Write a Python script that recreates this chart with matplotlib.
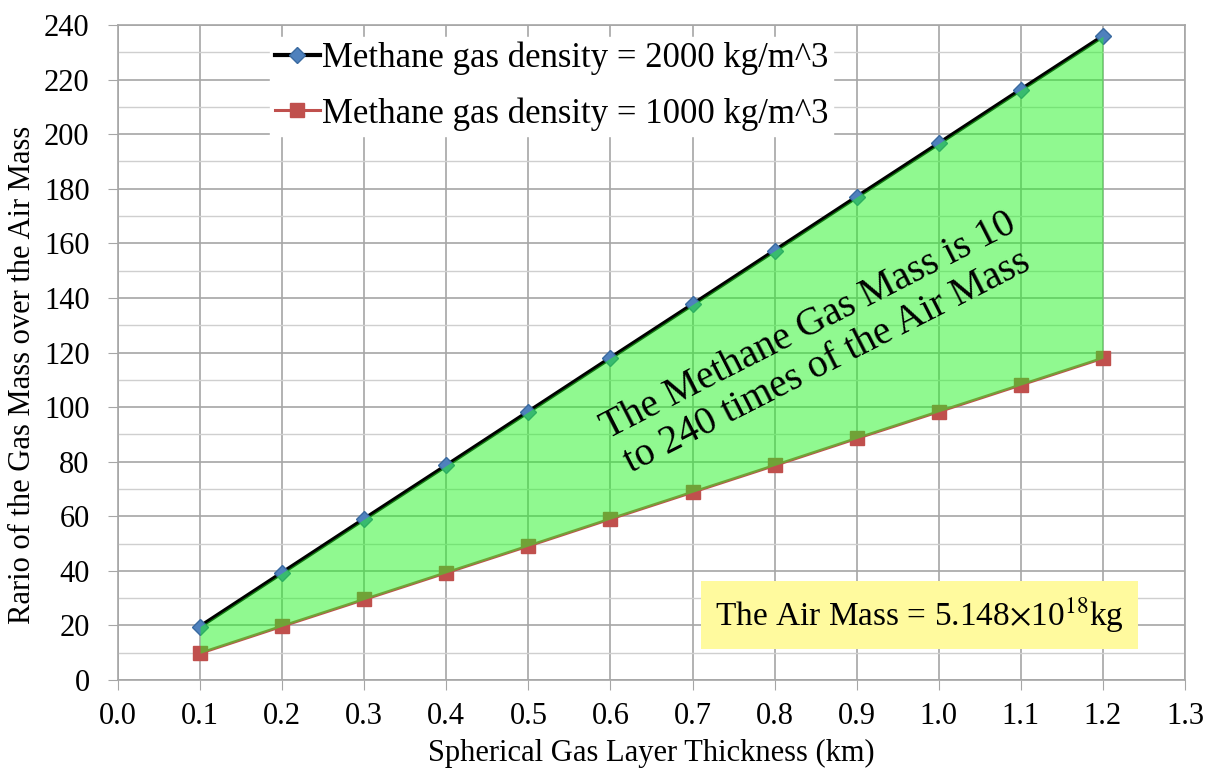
import numpy as np
import matplotlib.pyplot as plt
from matplotlib.ticker import MultipleLocator

# data
thickness = [0.1, 0.2, 0.3, 0.4, 0.5, 0.6, 0.7, 0.8, 0.9, 1.0, 1.1, 1.2]
ratio_2000 = [19.6, 39.3, 59.0, 78.6, 98.3, 118.0, 137.6, 157.3, 177.0, 196.6, 216.3, 235.9]
ratio_1000 = [9.8, 19.7, 29.5, 39.3, 49.1, 59.0, 68.8, 78.6, 88.5, 98.3, 108.1, 117.9]

label_2000 = 'Methane gas density = 2000 kg/m^3'
label_1000 = 'Methane gas density = 1000 kg/m^3'

plt.rcParams['font.family'] = ['Liberation Serif', 'DejaVu Serif']
plt.rcParams['mathtext.fontset'] = 'stix'

fig = plt.figure(figsize=(12.08, 7.71), dpi=100)
ax = fig.add_axes([118/1208, 1 - 680/771, (1185-118)/1208, (680-25)/771])

ax.plot(thickness, ratio_2000, color='black', lw=3, marker='D', ms=8,
        mfc='#4F81BD', mec='#3A6AA0', label=label_2000, zorder=3)
ax.plot(thickness, ratio_1000, color='#C0504D', lw=2.2, marker='s', ms=10,
        mfc='#C0504D', mec='#C0504D', label=label_1000, zorder=3)
ax.fill_between(thickness, ratio_1000, ratio_2000, color='#22F522', alpha=0.5,
                lw=0, zorder=4)

ax.set_xlim(0, 1.3)
ax.set_ylim(0, 240)
ax.xaxis.set_major_locator(MultipleLocator(0.1))
ax.yaxis.set_major_locator(MultipleLocator(20))
ax.yaxis.set_minor_locator(MultipleLocator(10))
ax.xaxis.set_major_formatter(plt.FuncFormatter(lambda v, p: f'{v:.1f}'))

ax.grid(which='major', color='#A6A6A6', lw=1.2)
ax.grid(which='minor', axis='y', color='#CFCFCF', lw=1.0)
ax.set_axisbelow(True)
for s in ax.spines.values():
    s.set_color('#A6A6A6')
    s.set_linewidth(1.2)
ax.tick_params(which='major', direction='out', length=7.5, color='#A6A6A6',
               labelsize=22)
ax.tick_params(axis='y', pad=13)
ax.tick_params(axis='x', pad=8)
ax.tick_params(which='minor', length=0)

ax.set_xlabel('Spherical Gas Layer Thickness (km)', fontsize=22, labelpad=6)
ax.set_ylabel('Rario of the Gas Mass over the Air Mass', fontsize=22)
ax.yaxis.set_label_coords(-0.076, 0.466)

leg = ax.legend(loc='upper left', bbox_to_anchor=(0.142, 0.982), fontsize=25,
                frameon=True, fancybox=False, edgecolor='white', framealpha=1,
                handlelength=1.3, handletextpad=0.05, labelspacing=0.62,
                borderpad=0.15, borderaxespad=0)
leg.set_zorder(6)

ax.text(0.853, 123, 'The Methane Gas Mass is 10\nto 240 times of the Air Mass',
        fontsize=28.5, rotation=27, ha='center', va='center',
        rotation_mode='anchor', linespacing=1.1, zorder=5)

ax.text(0.977, 23.8, r'The Air Mass = 5.148$\times$10$^{18}$kg', fontsize=24,
        ha='center', va='center', zorder=6,
        bbox=dict(boxstyle='square,pad=0.42', fc='#FFFA9E', ec='none'))

fig.savefig('out.png', dpi=100)
